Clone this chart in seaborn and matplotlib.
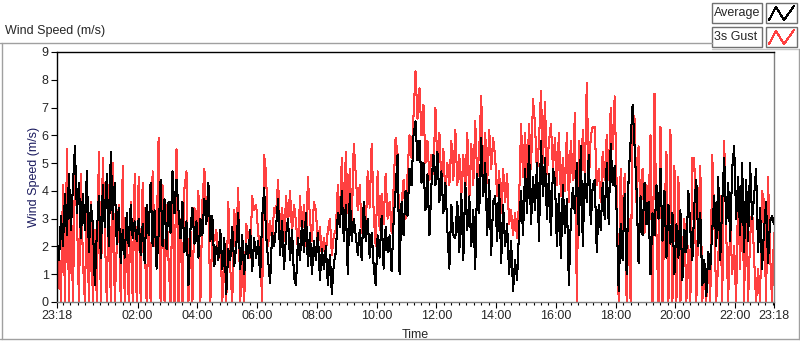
import numpy as np
import pandas as pd
import matplotlib
matplotlib.use("Agg")
import matplotlib.pyplot as plt
import matplotlib.dates as mdates
from matplotlib.lines import Line2D
from matplotlib.patches import Rectangle
import seaborn as sns

# ---------------- data (4-minute samples) ----------------
average = [
    2.2,1.5,3.1,2.0,3.9,2.4,4.6,2.6,4.2,5.6,
    3.2,4.3,2.3,3.9,2.6,4.7,1.8,3.5,2.8,0.6,
    2.5,3.8,1.6,4.2,2.7,4.6,2.0,5.4,3.0,4.3,
    2.1,3.4,1.4,2.6,1.6,3.2,2.0,3.5,2.3,2.9,
    2.2,3.0,1.7,2.8,1.4,3.5,2.4,4.3,2.0,3.3,
    1.2,2.4,4.4,2.0,3.7,1.9,3.6,2.5,4.7,3.2,
    4.4,3.3,2.3,3.6,1.8,2.9,0.6,2.6,3.4,2.1,
    2.9,1.6,3.0,2.4,3.7,2.8,4.3,2.2,3.1,1.3,
    2.0,1.5,2.6,1.2,2.3,0.3,1.9,1.5,2.7,1.3,
    2.0,3.2,1.2,2.4,1.0,2.1,1.6,2.6,1.1,2.3,
    1.6,2.2,0.9,3.0,4.1,2.4,1.5,0.7,2.5,2.0,
    2.7,3.7,1.7,2.9,1.2,2.4,3.0,1.5,2.6,0.9,
    0.6,2.3,1.5,2.9,1.8,3.2,1.3,2.5,1.0,2.2,
    1.5,2.5,0.8,1.9,1.2,2.0,0.6,1.7,0.3,1.4,
    1.8,3.2,2.7,4.0,2.2,3.5,1.0,3.9,2.2,3.0,
    2.4,1.7,2.6,1.5,3.6,2.2,3.0,1.6,2.5,1.3,
    0.6,2.4,1.6,3.1,1.2,2.7,1.8,2.4,1.1,2.9,
    4.0,5.3,1.0,3.6,2.4,4.0,3.1,4.8,4.2,6.0,
    6.5,5.1,5.8,4.3,5.0,3.3,4.6,2.4,4.2,5.3,
    4.2,5.4,3.6,4.7,3.2,4.3,2.6,1.2,3.5,2.4,
    2.3,3.6,1.8,3.9,1.5,4.3,2.6,3.8,2.0,3.3,
    1.2,4.6,3.2,5.9,3.8,5.0,2.4,4.4,1.7,3.6,
    3.8,2.2,4.2,1.4,3.5,2.0,2.8,1.0,2.2,0.4,
    1.5,0.8,2.6,4.0,2.4,4.8,3.2,5.6,2.8,4.5,
    3.3,5.0,2.2,5.8,3.8,5.2,3.0,4.6,2.4,4.8,
    4.4,2.0,3.9,1.6,4.2,2.5,3.7,0.6,3.0,4.1,
    3.2,5.0,2.4,5.6,2.0,4.6,3.6,5.3,2.8,4.2,
    4.4,1.8,3.5,2.6,4.3,3.0,5.0,2.8,5.7,4.2,
    4.9,3.2,0.4,2.8,1.5,3.9,1.0,4.5,5.8,7.1,
    5.6,4.0,1.4,3.8,2.4,4.3,2.8,3.6,1.0,3.2,
    2.4,4.2,3.0,4.8,2.2,4.0,1.6,3.5,2.1,3.2,
    1.0,2.8,1.6,3.3,0.8,2.6,1.8,4.0,2.6,1.5,
    3.5,4.4,2.0,3.2,0.6,1.5,0.2,1.8,1.2,2.6,
    3.8,2.0,4.5,1.5,3.6,5.2,2.8,4.3,2.2,4.8,
    5.6,3.0,4.5,2.4,5.0,1.8,4.4,2.2,5.0,3.0,
    3.8,4.8,1.8,3.4,1.2,2.6,3.6,1.4,2.9,3.1,
    2.8,
]

gust_3s = [
    0,2.0,0,4.2,0,5.5,0,3.8,0,4.6,
    3.2,0,4.6,1.5,0,4.0,0,3.6,0,2.6,
    0,5.4,0,5.2,2.5,0,4.2,0,5.0,0,
    2.0,3.5,0,4.9,0,2.8,0,3.6,0,4.6,
    0,4.5,0,4.3,2.2,0,3.0,0,4.7,2.0,
    2.0,5.9,0,4.2,0,3.5,1.5,0,4.0,0,
    5.5,0,3.0,0,4.1,4.7,0,2.6,0,3.4,
    2.4,4.0,0,3.6,4.8,3.0,3.3,0,2.6,2.2,
    2.6,1.5,2.3,0,1.8,0,3.6,1.2,0,3.3,
    2.2,4.1,0,1.5,0,2.8,2.4,1.6,3.8,3.3,
    3.5,2.5,1.8,0,5.3,4.6,2.0,2.9,2.2,3.4,
    3.2,4.4,2.6,3.4,2.2,3.8,2.8,4.0,2.5,3.5,
    2.9,1.8,3.8,2.4,3.5,2.0,4.5,3.0,2.2,3.6,
    3.3,2.0,2.7,1.6,2.3,1.8,2.6,3.0,1.7,2.4,
    2.6,4.2,3.0,5.2,2.5,5.4,3.2,4.8,2.8,5.7,
    4.6,3.3,4.2,2.5,3.5,2.6,4.7,3.4,5.7,3.2,
    2.0,4.7,2.6,3.9,2.8,4.6,3.0,3.6,2.5,4.1,
    5.9,5.3,2.2,3.5,4.4,3.0,4.6,6.0,5.2,6.7,
    8.3,6.6,7.7,6.0,7.1,5.0,5.8,4.4,5.3,4.6,
    7.0,4.8,6.1,4.2,5.5,3.8,5.0,4.2,5.8,4.4,
    6.2,4.2,5.3,3.8,5.3,4.0,6.1,3.6,5.7,4.2,
    6.5,4.4,5.5,7.4,4.6,6.1,4.3,6.2,4.8,5.9,
    5.2,3.8,4.7,3.2,4.8,3.6,4.6,2.8,3.3,2.4,
    3.2,2.3,3.6,6.4,4.5,6.1,4.2,6.4,4.8,7.3,
    6.4,4.6,5.8,7.6,5.0,7.2,4.6,5.8,6.4,4.8,
    5.9,4.2,6.1,3.8,5.2,4.0,6.1,3.6,5.8,4.4,
    6.8,0,5.8,4.0,6.2,4.5,7.9,4.2,6.0,6.3,
    6.3,4.2,4.8,3.6,5.4,4.4,6.0,4.4,7.0,5.5,
    7.4,4.2,0,4.8,2.5,4.6,0,3.0,0,6.8,
    6.6,3.5,5.6,3.0,4.8,2.5,4.2,3.2,6.0,0,
    7.5,2.4,0,6.3,0,3.0,5.4,0,6.2,0,
    4.9,0,4.5,0,1.5,3.0,0,2.0,0,5.2,
    5.2,0,2.9,4.9,0,1.2,0,1.8,0,5.3,
    3.0,0,1.5,3.8,0,5.8,2.5,0,3.0,1.0,
    2.0,0,4.0,1.2,4.9,0,4.3,0,2.3,3.4,
    1.6,0,1.2,0,4.0,3.6,0,4.5,1.8,0,
    2.5,
]

start_time = "2000-01-01 23:18"
step_minutes = 4
tick_labels = ["23:18", "02:00", "04:00", "06:00", "08:00", "10:00", "12:00",
               "14:00", "16:00", "18:00", "20:00", "22:00", "23:18"]
y_ticks = [0, 1, 2, 3, 4, 5, 6, 7, 8, 9]
series_names = ["Average", "3s Gust"]
series_colors = ["#000000", "#ff4040"]

# ---------------- build frame ----------------
times = pd.date_range(start_time, periods=len(average), freq=f"{step_minutes}min")
df = pd.DataFrame({"Time": times, "Average": average, "3s Gust": gust_3s})

sns.set_style("white")
plt.rcParams["font.family"] = ["Liberation Sans", "DejaVu Sans"]
plt.rcParams["font.size"] = 9

W, H = 800, 342
fig = plt.figure(figsize=(W / 100, H / 100), dpi=100)
L, R, T, B = 57, 774, 52, 302
ax = fig.add_axes([L / W, 1 - B / H, (R - L) / W, (B - T) / H])

sns.lineplot(data=df, x="Time", y="3s Gust", ax=ax, color=series_colors[1],
             lw=0.75, antialiased=False, zorder=2)
sns.lineplot(data=df, x="Time", y="Average", ax=ax, color=series_colors[0],
             lw=0.75, antialiased=False, zorder=3)

ax.set_xlim(times[0], times[-1])
ax.set_ylim(0, 9)

# ticks
base_day = pd.Timestamp(start_time).normalize()
tick_pos = []
for i, lab in enumerate(tick_labels):
    h, m = map(int, lab.split(":"))
    t = base_day + pd.Timedelta(hours=h, minutes=m)
    if i > 0:
        t = t + pd.Timedelta(days=1)
    tick_pos.append(t)
ax.set_xticks(tick_pos)
ax.set_xticklabels(tick_labels)
ax.xaxis.set_minor_locator(mdates.MinuteLocator(byminute=[0, 15, 30, 45]))
ax.set_yticks(y_ticks)
ax.set_yticklabels([str(v) for v in y_ticks])

ax.tick_params(axis="both", which="major", direction="out", length=4, width=0.8,
               color="black", labelsize=9, pad=2, bottom=True, left=True)
ax.tick_params(axis="x", which="minor", direction="out", length=2.5, width=0.8,
               color="black", bottom=True)

ax.set_xlabel("Time", fontsize=9, labelpad=5)
ax.set_ylabel("Wind Speed (m/s)", fontsize=9, color="#1a1a5e", labelpad=1)

for side in ["top", "left"]:
    ax.spines[side].set_color("black")
    ax.spines[side].set_linewidth(1.0)
for side in ["bottom", "right"]:
    ax.spines[side].set_color("#808080")
    ax.spines[side].set_linewidth(1.0)
for side in ax.spines:
    ax.spines[side].set_visible(True)
if ax.get_legend():
    ax.get_legend().remove()

# ---------------- figure decorations (LabVIEW-like frame) ----------------
def fx(x):
    return x / W

def fy(y):
    return 1 - y / H

gray = "#a0a0a0"
fig.add_artist(Line2D([fx(0), fx(712)], [fy(42.5), fy(42.5)], color=gray, lw=1))
fig.add_artist(Line2D([fx(712), fx(800)], [fy(48.5), fy(48.5)], color="#c8c8c8", lw=1))
fig.add_artist(Line2D([fx(1.5), fx(1.5)], [fy(42.5), fy(339)], color=gray, lw=1))
fig.add_artist(Line2D([fx(0), fx(800)], [fy(339), fy(339)], color=gray, lw=1))
fig.add_artist(Line2D([fx(798.5), fx(798.5)], [fy(48.5), fy(339)], color=gray, lw=1))

fig.text(fx(5), fy(31), "Wind Speed (m/s)", fontsize=9, ha="left", va="center")

# legend boxes
for i, (name, col) in enumerate(zip(series_names, series_colors)):
    y0 = 3 + i * 24
    fig.add_artist(Rectangle((fx(712), fy(y0 + 20)), fx(50), 20 / H,
                             facecolor="white", edgecolor="#707070", lw=1))
    fig.text(fx(714), fy(y0 + 10), name, fontsize=9, ha="left", va="center")
    fig.add_artist(Rectangle((fx(766), fy(y0 + 20)), fx(31), 20 / H,
                             facecolor="white", edgecolor="#707070", lw=1))
    xs = [769, 776, 784, 794]
    ys = [y0 + 17, y0 + 4, y0 + 17, y0 + 3]
    fig.add_artist(Line2D([fx(v) for v in xs], [fy(v) for v in ys],
                          color=col, lw=0.75, antialiased=False))

fig.savefig("out.png", dpi=100)
